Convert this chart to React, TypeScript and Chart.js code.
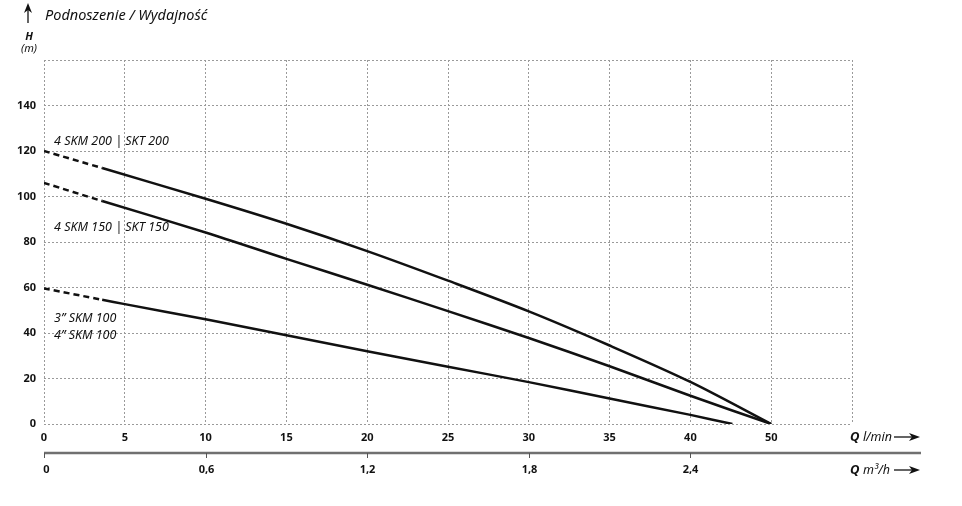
import React, { useEffect, useRef } from "react";
import { Chart, registerables } from "chart.js";

Chart.register(...registerables);

// Flow (l/min scale units) and head (m)
const flowSkm200 = [0, 3.6, 10, 15, 20, 25, 30, 35, 40, 45];
const headSkm200 = [120, 112.5, 99, 88, 76, 63, 49.5, 34.5, 18.5, 0];

const flowSkm150 = [0, 3.6, 10, 15, 20, 25, 30, 35, 40, 45];
const headSkm150 = [106, 98, 84.2, 72.6, 61.2, 49.6, 37.8, 25.4, 12.4, 0];

const flowSkm100 = [0, 3.6, 5, 10, 15, 20, 25, 30, 35, 40, 42.6];
const headSkm100 = [59.6, 54.6, 52.7, 46, 39, 32, 25.2, 18.4, 11.2, 4.0, 0];

const seriesNames = ["4 SKM 200 | SKT 200", "4 SKM 150 | SKT 150", "3” SKM 100 / 4” SKM 100"];

// Tick labels as printed on the chart
const flowTickLabels = ["0", "5", "10", "15", "20", "25", "30", "35", "40", "50", ""];
const m3hTickValues = [0, 0.6, 1.2, 1.8, 2.4];
const m3hTickLabels = ["0", "0,6", "1,2", "1,8", "2,4"];

// Series annotation texts with their anchor (data units)
const labelTexts = ["4 SKM 200 | SKT 200", "4 SKM 150 | SKT 150", "3” SKM 100", "4” SKM 100"];
const labelX = [0.62, 0.62, 0.62, 0.62];
const labelY = [124.4, 86.2, 46.6, 39.1];

const FONT = "'Noto Sans', 'Open Sans', sans-serif";
const INK = "#111";
const GRID = "#9a9a9a";

function toPoints(xs: number[], ys: number[]) {
  return xs.map((x, i) => ({ x, y: ys[i] }));
}

function arrowRight(ctx: CanvasRenderingContext2D, x0: number, x1: number, y: number) {
  ctx.save();
  ctx.strokeStyle = INK;
  ctx.fillStyle = INK;
  ctx.lineWidth = 1.3;
  ctx.beginPath();
  ctx.moveTo(x0, y);
  ctx.lineTo(x1 - 8, y);
  ctx.stroke();
  ctx.beginPath();
  ctx.moveTo(x1, y);
  ctx.lineTo(x1 - 11, y - 4);
  ctx.lineTo(x1 - 8, y);
  ctx.lineTo(x1 - 11, y + 4);
  ctx.closePath();
  ctx.fill();
  ctx.restore();
}

const decorPlugin = {
  id: "decor",
  afterDraw(chart: any) {
    const ctx: CanvasRenderingContext2D = chart.ctx;
    const xs = chart.scales.x;
    const ys = chart.scales.y;
    ctx.save();

    // Up arrow + title
    ctx.strokeStyle = INK;
    ctx.fillStyle = INK;
    ctx.lineWidth = 1.3;
    ctx.beginPath();
    ctx.moveTo(28, 23);
    ctx.lineTo(28, 10);
    ctx.stroke();
    ctx.beginPath();
    ctx.moveTo(28, 3);
    ctx.lineTo(24, 13);
    ctx.lineTo(28, 10);
    ctx.lineTo(32, 13);
    ctx.closePath();
    ctx.fill();

    ctx.textBaseline = "middle";
    ctx.textAlign = "left";
    ctx.font = `italic 14.5px ${FONT}`;
    ctx.fillText("Podnoszenie / Wydajność", 45, 16);

    ctx.textAlign = "center";
    ctx.font = `italic bold 11px ${FONT}`;
    ctx.fillText("H", 29, 37);
    ctx.font = `italic 11px ${FONT}`;
    ctx.fillText("(m)", 29, 49);

    // Series labels
    ctx.textAlign = "left";
    ctx.font = `italic 12.5px ${FONT}`;
    labelTexts.forEach((t, i) => {
      ctx.fillText(t, xs.getPixelForValue(labelX[i]), ys.getPixelForValue(labelY[i]));
    });

    // Q l/min
    const yQ1 = 437;
    ctx.font = `italic bold 13px ${FONT}`;
    ctx.fillText("Q", 850, yQ1);
    let w = ctx.measureText("Q ").width;
    ctx.font = `italic 12.5px ${FONT}`;
    ctx.fillText("l/min", 850 + w, yQ1);
    arrowRight(ctx, 894, 920, yQ1);

    // Secondary m3/h axis
    const yAx = 453;
    ctx.strokeStyle = "#707070";
    ctx.lineWidth = 2.5;
    ctx.beginPath();
    ctx.moveTo(xs.left, yAx);
    ctx.lineTo(921, yAx);
    ctx.stroke();
    ctx.lineWidth = 1;
    ctx.strokeStyle = "#555";
    ctx.fillStyle = INK;
    ctx.font = `bold 11px ${FONT}`;
    ctx.textAlign = "center";
    m3hTickValues.forEach((v, i) => {
      const px = Math.round(xs.getPixelForValue((v * 50) / 3)) + 0.5;
      ctx.beginPath();
      ctx.moveTo(px, yAx);
      ctx.lineTo(px, yAx + 5);
      ctx.stroke();
      ctx.fillText(m3hTickLabels[i], px + (i === 0 ? 2 : 0), 470);
    });

    const yQ2 = 470;
    ctx.textAlign = "left";
    ctx.font = `italic bold 13px ${FONT}`;
    ctx.fillText("Q", 850, yQ2);
    w = ctx.measureText("Q ").width;
    ctx.font = `italic 12.5px ${FONT}`;
    ctx.fillText("m³/h", 850 + w, yQ2);
    arrowRight(ctx, 894, 920, yQ2);

    ctx.restore();
  },
};

export default function App() {
  const ref = useRef<HTMLCanvasElement | null>(null);

  useEffect(() => {
    if (!ref.current) return;
    const mk = (label: string, data: { x: number; y: number }[]) => ({
      label,
      data,
      borderColor: INK,
      borderWidth: 2.5,
      pointRadius: 0,
      fill: false,
      tension: 0.3,
      segment: {
        borderDash: (c: any) => (c.p0DataIndex === 0 ? [6, 4] : undefined),
      },
    });
    const chart = new Chart(ref.current, {
      type: "line",
      data: {
        datasets: [
          mk(seriesNames[0], toPoints(flowSkm200, headSkm200)),
          mk(seriesNames[1], toPoints(flowSkm150, headSkm150)),
          mk(seriesNames[2], toPoints(flowSkm100, headSkm100)),
        ],
      },
      options: {
        animation: false,
        responsive: true,
        maintainAspectRatio: false,
        layout: { padding: { top: 60, right: 110, left: 0, bottom: 0 } },
        plugins: { legend: { display: false }, tooltip: { enabled: false } },
        scales: {
          x: {
            type: "linear",
            min: 0,
            max: 50,
            afterFit: (s: any) => {
              s.height = 82;
            },
            border: { display: false, dash: [2, 2] },
            grid: {
              color: GRID,
              lineWidth: 1,
              drawTicks: false,
            },
            ticks: {
              stepSize: 5,
              autoSkip: false,
              maxRotation: 0,
              padding: 7,
              color: INK,
              font: { family: FONT, weight: "bold", size: 11 },
              callback: (v: any) => flowTickLabels[Math.round(Number(v) / 5)] ?? "",
            },
          },
          y: {
            type: "linear",
            min: 0,
            max: 160,
            afterFit: (s: any) => {
              s.width = 44;
            },
            border: { display: false, dash: [2, 2] },
            grid: {
              color: GRID,
              lineWidth: 1,
              drawTicks: false,
            },
            ticks: {
              stepSize: 20,
              padding: 8,
              color: INK,
              font: { family: FONT, weight: "bold", size: 11 },
              callback: (v: any) => (Number(v) === 160 ? "" : String(v)),
            },
          },
        },
      },
      plugins: [decorPlugin],
    } as any);

    return () => chart.destroy();
  }, []);

  return (
    <div style={{ position: "absolute", left: 0, top: 0, width: 962, height: 506 }}>
      <canvas ref={ref} />
    </div>
  );
}
